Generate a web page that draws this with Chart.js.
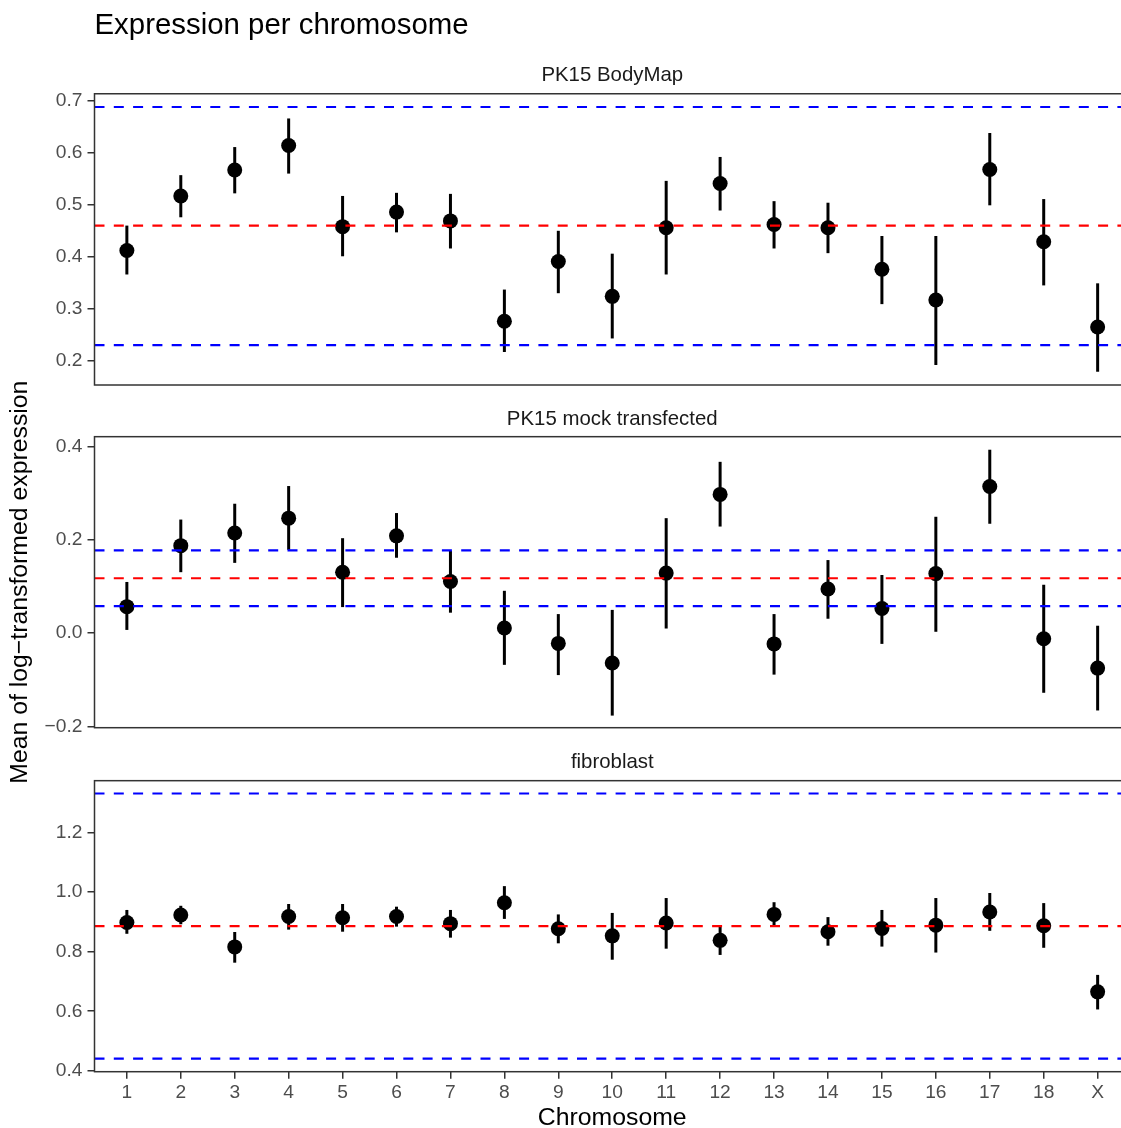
<!DOCTYPE html>
<html>
<head>
<meta charset="utf-8">
<script src="https://cdn.jsdelivr.net/npm/chart.js@4.4.1/dist/chart.umd.min.js"></script>
<style>
  html, body { margin: 0; padding: 0; background: #fff; overflow: hidden; }
  #wrap { position: relative; width: 1121px; height: 1128px; overflow: hidden; }
  #wrap canvas { position: absolute; left: 0; top: 0; }
</style>
</head>
<body>
<div id="wrap">
  <canvas id="bodymap" width="1150" height="1128"></canvas>
  <canvas id="mock" width="1150" height="1128"></canvas>
  <canvas id="fibro" width="1150" height="1128"></canvas>
</div>
<script>
// chromosome labels on the x axis
const chromosomes = ['1','2','3','4','5','6','7','8','9','10','11','12','13','14','15','16','17','18','X'];
const panelNames = ['PK15 BodyMap', 'PK15 mock transfected', 'fibroblast'];

// PK15 BodyMap
const bodyMean = [0.411, 0.516, 0.566, 0.613, 0.457, 0.485, 0.468, 0.275, 0.390, 0.323, 0.455, 0.540, 0.461, 0.455, 0.375, 0.316, 0.567, 0.428, 0.264];
const bodyLow  = [0.365, 0.475, 0.521, 0.559, 0.400, 0.446, 0.415, 0.216, 0.329, 0.242, 0.365, 0.488, 0.415, 0.406, 0.308, 0.191, 0.498, 0.344, 0.178];
const bodyHigh = [0.459, 0.556, 0.610, 0.665, 0.516, 0.522, 0.520, 0.336, 0.449, 0.405, 0.545, 0.591, 0.506, 0.503, 0.439, 0.439, 0.637, 0.510, 0.348];

// PK15 mock transfected
const mockMean = [0.057, 0.188, 0.215, 0.247, 0.131, 0.209, 0.111, 0.011, -0.022, -0.064, 0.129, 0.298, -0.023, 0.095, 0.053, 0.128, 0.315, -0.012, -0.075];
const mockLow  = [0.007, 0.131, 0.151, 0.179, 0.056, 0.162, 0.044, -0.068, -0.090, -0.177, 0.010, 0.229, -0.089, 0.031, -0.023, 0.003, 0.235, -0.128, -0.166];
const mockHigh = [0.110, 0.244, 0.278, 0.316, 0.204, 0.258, 0.177, 0.091, 0.041, 0.050, 0.247, 0.368, 0.041, 0.157, 0.125, 0.250, 0.394, 0.104, 0.016];

// fibroblast
const fibroMean = [0.898, 0.923, 0.816, 0.918, 0.914, 0.918, 0.894, 0.964, 0.877, 0.853, 0.896, 0.838, 0.925, 0.867, 0.878, 0.889, 0.933, 0.887, 0.665];
const fibroLow  = [0.860, 0.892, 0.763, 0.874, 0.867, 0.884, 0.847, 0.910, 0.828, 0.773, 0.810, 0.789, 0.889, 0.820, 0.817, 0.797, 0.870, 0.813, 0.606];
const fibroHigh = [0.940, 0.954, 0.866, 0.960, 0.960, 0.951, 0.940, 1.020, 0.925, 0.930, 0.980, 0.884, 0.966, 0.916, 0.940, 0.980, 0.997, 0.963, 0.722];

// reference lines per panel (red = mean, blue = bounds)
const refMean  = [0.459, 0.118, 0.886];
const refUpper = [0.687, 0.178, 1.331];
const refLower = [0.229, 0.058, 0.441];

// y ticks and limits per panel
const yTicks = [[0.2, 0.3, 0.4, 0.5, 0.6, 0.7], [-0.2, 0.0, 0.2, 0.4], [0.4, 0.6, 0.8, 1.0, 1.2]];
const yLimits = [[0.1525, 0.7125], [-0.203, 0.422], [0.397, 1.374]];
const xLimits = [0.4, 19.6];

Chart.defaults.font.family = '"Liberation Sans", Arial, Helvetica, sans-serif';

const PANEL_RIGHT = 1130; // ggplot panel runs past the picture edge

const errorBars = {
  id: 'errorBars',
  beforeDatasetsDraw(chart) {
    const ctx = chart.ctx;
    const ys = chart.scales.y;
    chart.data.datasets.forEach(function (ds, di) {
      if (!ds.errLow) return;
      const meta = chart.getDatasetMeta(di);
      ctx.save();
      ctx.strokeStyle = '#000';
      ctx.lineWidth = 3;
      meta.data.forEach(function (pt, j) {
        ctx.beginPath();
        ctx.moveTo(pt.x, ys.getPixelForValue(ds.errLow[j]));
        ctx.lineTo(pt.x, ys.getPixelForValue(ds.errHigh[j]));
        ctx.stroke();
      });
      ctx.restore();
    });
  }
};

const panelBox = {
  id: 'panelBox',
  afterDatasetsDraw(chart) {
    const ctx = chart.ctx;
    const a = chart.chartArea;
    ctx.save();
    ctx.strokeStyle = '#333333';
    ctx.lineWidth = 1.5;
    ctx.strokeRect(a.left, a.top, a.right - a.left, a.bottom - a.top);
    ctx.restore();
  }
};

function refLine(value, color) {
  return {
    type: 'line',
    data: [{x: xLimits[0], y: value}, {x: xLimits[1], y: value}],
    borderColor: color,
    borderWidth: 2.2,
    borderDash: [10, 9.3],
    pointRadius: 0,
    fill: false
  };
}

function fmt(v) {
  return v.toFixed(1).replace('-', '\u2212');
}

const layouts = [
  {top: 0, bottom: 743},
  {top: 406.7, bottom: 400.3},
  {top: 750.4, bottom: 0}
];

function makePanel(id, i, mean, low, high) {
  const isLast = i === 2;
  const canvas = document.getElementById(id);
  const plugins = {
    legend: {display: false},
    tooltip: {enabled: false}
  };
  if (i === 0) {
    plugins.title = {
      display: true, text: 'Expression per chromosome', align: 'start', fullSize: false,
      font: {size: 29.4, weight: 'normal'}, color: '#000', padding: {top: 8.4, bottom: 0}
    };
    plugins.subtitle = {
      display: true, text: panelNames[i], fullSize: false,
      font: {size: 20.4, weight: 'normal'}, color: '#1A1A1A', padding: {top: 19.1, bottom: 6.5}
    };
  } else {
    plugins.title = {
      display: true, text: panelNames[i], fullSize: false,
      font: {size: 20.4, weight: 'normal'}, color: '#1A1A1A',
      padding: {top: 0, bottom: i === 1 ? 5.5 : 5.8}
    };
  }

  const chart = new Chart(canvas, {
    type: 'scatter',
    data: {
      datasets: [
        refLine(refMean[i], '#FF0000'),
        refLine(refUpper[i], '#0000FF'),
        refLine(refLower[i], '#0000FF'),
        {
          type: 'scatter',
          data: mean.map(function (m, k) { return {x: k + 1, y: m}; }),
          errLow: low,
          errHigh: high,
          pointRadius: 7.5,
          pointHoverRadius: 7.5,
          backgroundColor: '#000',
          borderWidth: 0
        }
      ]
    },
    options: {
      responsive: false,
      animation: false,
      devicePixelRatio: 1,
      events: [],
      layout: {padding: {top: layouts[i].top, bottom: layouts[i].bottom, left: 0, right: canvas.width - PANEL_RIGHT}},
      plugins: plugins,
      scales: {
        x: {
          type: 'linear',
          min: xLimits[0],
          max: xLimits[1],
          display: isLast,
          afterBuildTicks: function (s) { s.ticks = chromosomes.map(function (c, k) { return {value: k + 1}; }); },
          ticks: {
            callback: function (v) { return chromosomes[Math.round(v) - 1]; },
            font: {size: 19.2}, color: '#4D4D4D', padding: 2, autoSkip: false, maxRotation: 0
          },
          grid: {drawOnChartArea: false, tickLength: 7, color: '#333333', lineWidth: 1.5},
          border: {display: false},
          title: {
            display: true, text: 'Chromosome', color: '#000',
            font: {size: 24.8, lineHeight: 1}, padding: {top: 0, bottom: -2.5}
          },
          afterFit: function (s) { s.height = isLast ? 56.3 : 0; }
        },
        y: {
          min: yLimits[i][0],
          max: yLimits[i][1],
          afterBuildTicks: function (s) { s.ticks = yTicks[i].map(function (v) { return {value: v}; }); },
          ticks: {
            callback: function (v) { return fmt(v); },
            font: {size: 19.2}, color: '#4D4D4D', padding: 5
          },
          grid: {drawOnChartArea: false, tickLength: 7, color: '#333333', lineWidth: 1.5},
          border: {display: false},
          title: {
            display: i === 1, text: 'Mean of log\u2212transformed expression', color: '#000',
            font: {size: 24.8, lineHeight: 1}, padding: {top: 7.6, bottom: 0}
          },
          afterFit: function (s) { s.width = 94.5; }
        }
      }
    },
    plugins: [errorBars, panelBox]
  });

  // the layout may keep a little extra room on the right; correct for it once
  const extra = chart.chartArea.right - PANEL_RIGHT;
  if (Math.abs(extra) > 0.5) {
    chart.options.layout.padding.right = canvas.width - PANEL_RIGHT + extra;
    chart.update();
  }
}

makePanel('bodymap', 0, bodyMean, bodyLow, bodyHigh);
makePanel('mock', 1, mockMean, mockLow, mockHigh);
makePanel('fibro', 2, fibroMean, fibroLow, fibroHigh);
</script>
</body>
</html>
